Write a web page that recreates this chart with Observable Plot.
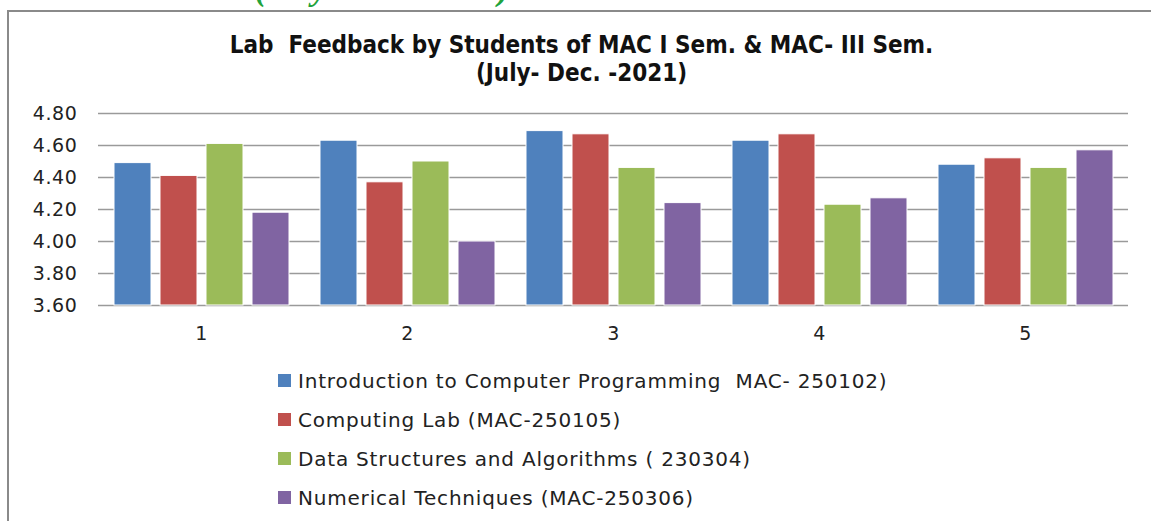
<!DOCTYPE html>
<html>
<head>
<meta charset="utf-8">
<script src="https://cdn.jsdelivr.net/npm/d3@7"></script>
<script src="https://cdn.jsdelivr.net/npm/@observablehq/plot@0.6"></script>
<style>
  html, body { margin: 0; padding: 0; background: #fff; width: 1151px; height: 521px; overflow: hidden; }
  #wrap { position: relative; width: 1151px; height: 521px; }
  #frame { position: absolute; left: 7px; top: 10px; width: 1200px; height: 600px;
           border-left: 2px solid #8a8a8a; border-top: 2px solid #8a8a8a; }
  #topnote { position: absolute; left: 255px; top: -30px; font: italic bold 34px "Liberation Serif", serif; color: #22a33c; white-space: pre; }
  .title { position: absolute; left: 0; width: 1163px; text-align: center;
           font-family: "Liberation Sans Narrow", "DejaVu Sans Condensed", sans-serif; font-weight: bold; font-size: 24px; color: #111; white-space: pre; }
  #chart { position: absolute; left: 0; top: 90px; }
  #legend { position: absolute; left: 278px; top: 361px; font-family: "DejaVu Sans", sans-serif; font-size: 20px; letter-spacing: 0.8px; color: #222; }
  .row { display: flex; align-items: center; height: 39px; white-space: pre; }
  .sw { width: 13px; height: 13px; margin-right: 7px; flex: none; }
</style>
</head>
<body>
<div id="wrap">
  <div id="topnote">(July- Dec. -2021)</div>
  <div id="frame"></div>
  <div class="title" style="top:31px">Lab  Feedback by Students of MAC I Sem. &amp; MAC- III Sem.</div>
  <div class="title" style="top:59px">(July- Dec. -2021)</div>
  <div id="chart"></div>
  <div id="legend"></div>
</div>
<script>
const groups = ["1", "2", "3", "4", "5"];
const series = [
  "Introduction to Computer Programming  MAC- 250102)",
  "Computing Lab (MAC-250105)",
  "Data Structures and Algorithms ( 230304)",
  "Numerical Techniques (MAC-250306)"
];
const colors = ["#4F81BD", "#C0504D", "#9BBB59", "#8064A2"];
const introProgramming = [4.49, 4.63, 4.69, 4.63, 4.48];
const computingLab = [4.41, 4.37, 4.67, 4.67, 4.52];
const dataStructures = [4.61, 4.50, 4.46, 4.23, 4.46];
const numericalTech = [4.18, 4.00, 4.24, 4.27, 4.57];
const yTicks = [3.6, 3.8, 4.0, 4.2, 4.4, 4.6, 4.8];

const values = [introProgramming, computingLab, dataStructures, numericalTech];
const data = [];
groups.forEach((g, gi) => {
  series.forEach((s, si) => data.push({g, s, v: values[si][gi]}));
});
const yMin = yTicks[0], yMax = yTicks[yTicks.length - 1];

const chart = Plot.plot({
  width: 1151,
  height: 260,
  marginTop: 23,
  marginBottom: 45,
  marginLeft: 96,
  marginRight: 22,
  style: {fontFamily: "DejaVu Sans, sans-serif", fontSize: "19px", letterSpacing: "0.6px", color: "#222", background: "transparent"},
  fx: {domain: groups, padding: 0, label: null, tickSize: 0, tickPadding: 21, axis: "bottom"},
  x: {domain: series, paddingInner: 0.2, paddingOuter: 0.3, axis: null},
  y: {domain: [yMin, yMax], ticks: yTicks, tickFormat: ".2f", tickSize: 0, tickPadding: 21, label: null},
  color: {domain: series, range: colors},
  marks: [
    Plot.ruleY(yTicks, {stroke: "#9a9a9a", strokeWidth: 1.5}),
    Plot.barY(data, {fx: "g", x: "s", y1: yMin, y2: "v", fill: "s", stroke: "#fff", strokeWidth: 1})
  ]
});
document.getElementById("chart").appendChild(chart);

const legend = document.getElementById("legend");
series.forEach((s, i) => {
  const row = document.createElement("div");
  row.className = "row";
  const sw = document.createElement("span");
  sw.className = "sw";
  sw.style.background = colors[i];
  const t = document.createElement("span");
  t.textContent = s;
  row.appendChild(sw);
  row.appendChild(t);
  legend.appendChild(row);
});
</script>
</body>
</html>
